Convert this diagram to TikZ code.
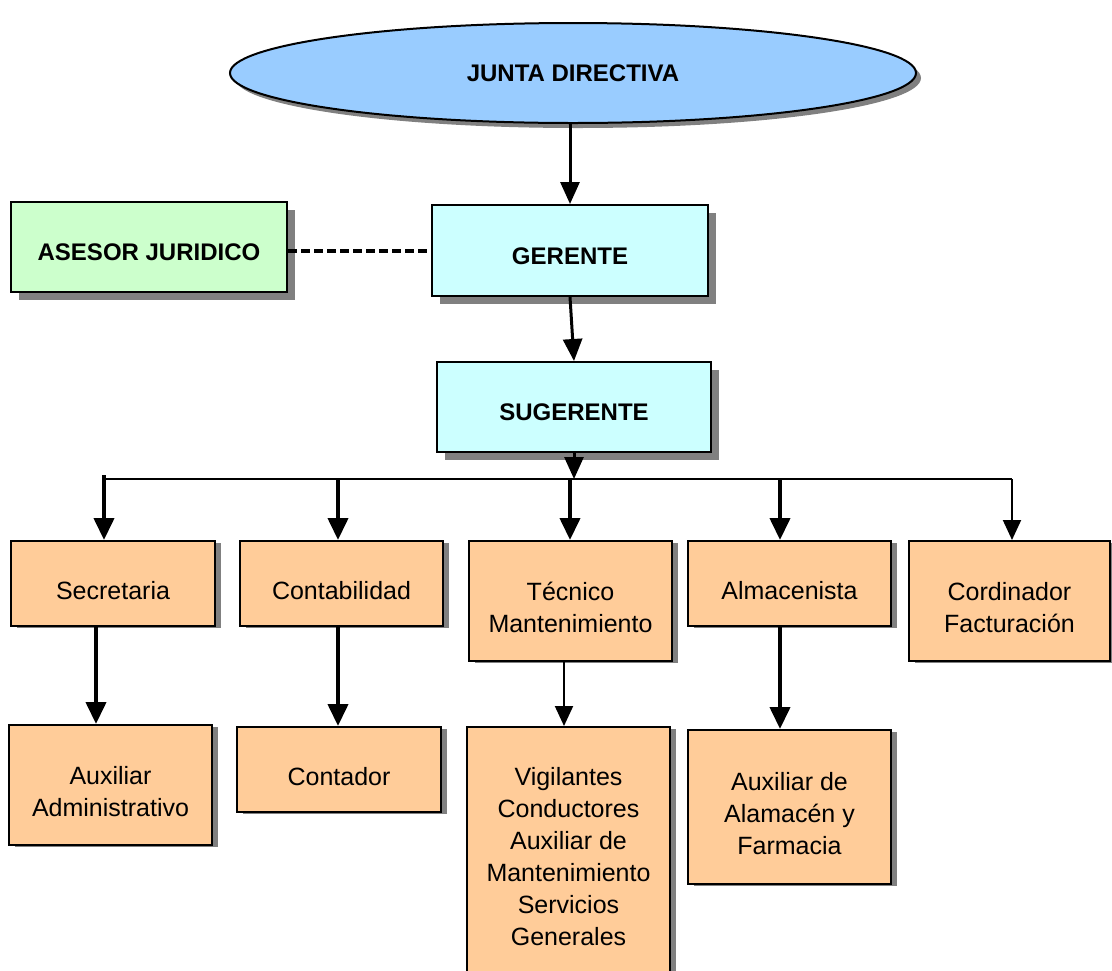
\documentclass[tikz,border=0pt]{standalone}
\usepackage{fontspec}
\setmainfont{Liberation Sans}
\usetikzlibrary{shapes.geometric,shadows,arrows.meta}

\definecolor{boardblue}{HTML}{99CCFF}
\definecolor{mgmtcyan}{HTML}{CCFFFF}
\definecolor{advgreen}{HTML}{CCFFCC}
\definecolor{unitorange}{HTML}{FFCC99}
\definecolor{shadowgray}{HTML}{808080}

% struts that set the first line of a box a little below its centre
\newcommand{\toplift}{\rule{0pt}{28pt}}
\newcommand{\unitlift}{\rule{0pt}{32pt}}

\begin{document}
\begin{tikzpicture}[x=1pt,y=-1pt,
  box/.style={draw=black, line width=2pt, rectangle, align=center, inner sep=0pt},
  mgmtbox/.style={box, font=\fontsize{24}{30}\selectfont\bfseries,
    drop shadow={shadow xshift=8pt, shadow yshift=-8pt, fill=shadowgray, opacity=1}},
  unitbox/.style={box, fill=unitorange, font=\fontsize{25}{32}\selectfont,
    drop shadow={shadow xshift=6pt, shadow yshift=-2pt, fill=shadowgray, opacity=1}},
  midarrow/.style={line width=3pt, -{Triangle[length=22pt,width=19pt]}},
  strongarrow/.style={line width=4pt, -{Triangle[length=22pt,width=20pt]}},
  thinarrow/.style={line width=2pt, -{Triangle[length=20pt,width=18pt]}},
  busline/.style={line width=2.5pt},
  dashline/.style={line width=4pt, dash pattern=on 9pt off 4pt}
]
\clip (0,0) rectangle (1112,970);
\fill[white] (0,0) rectangle (1112,970);

% board
\node[ellipse, draw=black, line width=2pt, fill=boardblue,
      minimum width=686pt, minimum height=100pt, inner sep=0pt,
      font=\fontsize{24}{30}\selectfont\bfseries,
      drop shadow={shadow xshift=5pt, shadow yshift=-5pt, fill=shadowgray, opacity=1}]
      (jd) at (573,73) {JUNTA DIRECTIVA};

% management
\node[mgmtbox, fill=advgreen, minimum width=276pt, minimum height=90pt]
      (ase) at (149,247) {\toplift ASESOR JURIDICO};
\node[mgmtbox, fill=mgmtcyan, minimum width=276pt, minimum height=91pt]
      (ger) at (570,250.5) {\toplift GERENTE};
\node[mgmtbox, fill=mgmtcyan, minimum width=274pt, minimum height=90pt]
      (sug) at (574,407) {\toplift SUGERENTE};

% first level units
\node[unitbox, minimum width=204pt, minimum height=85pt]  (sec) at (113,583.5) {\unitlift Secretaria};
\node[unitbox, minimum width=203pt, minimum height=85pt]  (con) at (341.5,583.5) {\unitlift Contabilidad};
\node[unitbox, minimum width=203pt, minimum height=120pt] (tec) at (570.5,601) {\unitlift Técnico\\Mantenimiento};
\node[unitbox, minimum width=203pt, minimum height=85pt]  (alm) at (789.5,583.5) {\unitlift Almacenista};
\node[unitbox, minimum width=201pt, minimum height=120pt] (cor) at (1009.5,601) {\unitlift Cordinador\\Facturación};

% second level units
\node[unitbox, minimum width=203pt, minimum height=120pt] (aux) at (110.5,785) {\unitlift Auxiliar\\Administrativo};
\node[unitbox, minimum width=204pt, minimum height=85pt]  (cta) at (339,769.5) {\unitlift Contador};
\node[unitbox, minimum width=203pt, minimum height=246pt] (vig) at (568.5,850)
      {\unitlift Vigilantes\\Conductores\\Auxiliar de\\Mantenimiento\\Servicios\\Generales};
\node[unitbox, minimum width=203pt, minimum height=154pt] (axa) at (789.5,807)
      {\unitlift Auxiliar de\\Alamacén y\\Farmacia};

% distribution bus
\coordinate (busL) at (104,479);
\coordinate (busR) at (1012,479);
\coordinate (bus2) at (338,479);
\coordinate (bus3) at (570,479);
\coordinate (bus4) at (780,479);

% connectors
\draw[midarrow] (ger.north |- jd.south) -- (ger.north);
\draw[dashline] (ase.east |- ger.west) -- (ger.west);
\draw[midarrow] (ger.south) -- (sug.north);
\draw[busline] (busL) -- (busR);
\draw[midarrow] (sug.south) -- (sug.south |- busL);

\draw[strongarrow] ([yshift=4pt]busL) -- (busL |- sec.north);
\draw[strongarrow] (bus2) -- (bus2 |- con.north);
\draw[strongarrow] (bus3) -- (bus3 |- tec.north);
\draw[strongarrow] (bus4) -- (bus4 |- alm.north);
\draw[thinarrow]   (busR) -- (busR |- cor.north);

\draw[strongarrow] ([xshift=-17pt]sec.south) -- ([xshift=-17pt]sec.south |- aux.north);
\draw[strongarrow] ([xshift=-3.5pt]con.south) -- ([xshift=-3.5pt]con.south |- cta.north);
\draw[thinarrow]   ([xshift=-6.5pt]tec.south) -- ([xshift=-6.5pt]tec.south |- vig.north);
\draw[strongarrow] ([xshift=-9.5pt]alm.south) -- ([xshift=-9.5pt]alm.south |- axa.north);
\end{tikzpicture}
\end{document}
